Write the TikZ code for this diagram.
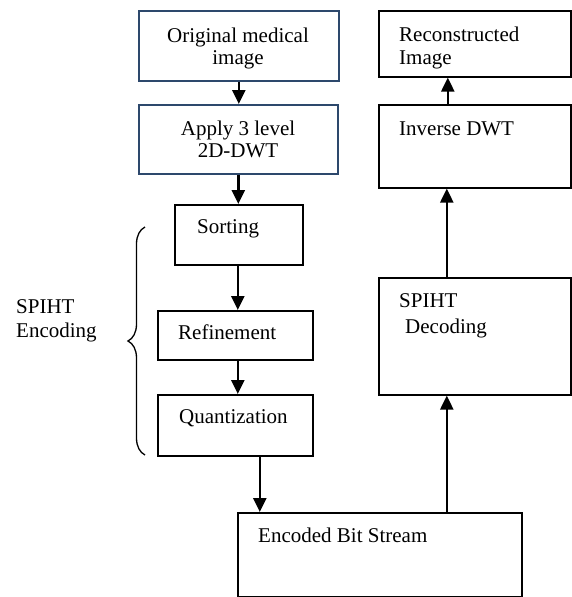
\documentclass[tikz,border=0pt]{standalone}
\usepackage{fontspec}
\setmainfont{Liberation Serif}
\usetikzlibrary{arrows.meta,decorations.pathreplacing}
\definecolor{boxblue}{RGB}{45,72,108}
\begin{document}
\begin{tikzpicture}[x=1pt,y=-1pt,
  box/.style={draw=black,line width=1.6pt,rectangle,inner sep=0pt,anchor=north west},
  bluebox/.style={box,draw=boxblue},
  txt/.style={inner sep=0pt,font=\fontsize{21}{23}\selectfont},
  arr/.style={line width=2.4pt,-{Triangle[length=14pt,width=13pt]}}]
\useasboundingbox (0,0) rectangle (571,597);
% left column
\node[bluebox,minimum width=200pt,minimum height=70pt] (o) at (138,10) {};
\node[bluebox,minimum width=199pt,minimum height=69pt] (a) at (138,104) {};
\node[box,minimum width=128pt,minimum height=60pt] (s) at (174,204) {};
\node[box,minimum width=155pt,minimum height=49pt] (r) at (157,310) {};
\node[box,minimum width=155pt,minimum height=61pt] (q) at (157,394) {};
\node[box,minimum width=284pt,minimum height=84pt] (e) at (237,512) {};
% right column
\node[box,minimum width=192pt,minimum height=66pt] (rc) at (378,10) {};
\node[box,minimum width=192pt,minimum height=83pt] (iv) at (378,104) {};
\node[box,minimum width=192pt,minimum height=117pt] (d) at (378,277) {};
% texts
\node[txt,anchor=base] (ot1) at (238,42) {Original medical};
\node[txt,anchor=base] (ot2) at (238,64) {image};
\node[txt,anchor=base] (at1) at (238,135) {Apply 3 level};
\node[txt,anchor=base] (at2) at (238,157) {2D-DWT};
\node[txt,anchor=base west] (st) at (197,233) {Sorting};
\node[txt,anchor=base west] (rt) at (178,339) {Refinement};
\node[txt,anchor=base west] (qt) at (179,423) {Quantization};
\node[txt,anchor=base west] (et) at (258,542) {Encoded Bit Stream};
\node[txt,anchor=base west] (rct1) at (399,41) {Reconstructed};
\node[txt,anchor=base west] (rct2) at (399,64) {Image};
\node[txt,anchor=base west] (ivt) at (399,135) {Inverse DWT};
\node[txt,anchor=base west] (dt1) at (399,307) {SPIHT};
\node[txt,anchor=base west] (dt2) at (405,333) {Decoding};
\node[txt,anchor=base west] (se1) at (16,313) {SPIHT};
\node[txt,anchor=base west] (se2) at (16,337) {Encoding};
% brace
\draw[line width=1.3pt,decorate,decoration={brace,amplitude=17pt}] (145,455) -- (145,227);
% arrows
\draw[arr] (o.south) -- (o.south |- a.north);
\draw[arr] (a.south) -- (a.south |- s.north);
\draw[arr] ([xshift=-1pt]s.south) -- ([xshift=-1pt]s.south |- r.north);
\draw[arr] ([xshift=-1pt]s.south |- r.south) -- ([xshift=-1pt]s.south |- q.north);
\draw[arr] ([xshift=24.5pt]q.south) -- ([xshift=24.5pt]q.south |- e.north);
\draw[arr] ([xshift=-28pt]d.south |- e.north) -- ([xshift=-28pt]d.south);
\draw[arr] ([xshift=-28pt]d.north) -- ([xshift=-28pt]d.north |- iv.south);
\draw[arr] ([xshift=-27pt]iv.north) -- ([xshift=-27pt]iv.north |- rc.south);
\end{tikzpicture}
\end{document}
